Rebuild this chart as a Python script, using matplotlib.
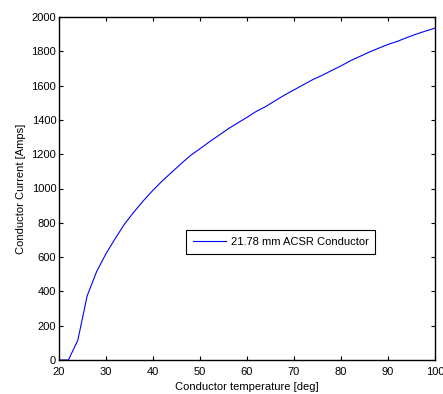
"""
Conductor ampacity vs. temperature.
"""

import matplotlib
matplotlib.use("Agg")
import matplotlib.pyplot as plt

plt.rcParams["font.family"] = ["Liberation Sans", "DejaVu Sans"]
plt.rcParams["font.size"] = 8

temperature = [20, 22, 24, 26, 28, 30, 32, 34, 36, 38, 40, 42, 44, 46, 48, 50,
               52, 54, 56, 58, 60, 62, 64, 66, 68, 70, 72, 74, 76, 78, 80,
               82, 84, 86, 88, 90, 92, 94, 96, 98, 100]
current = [0, 0, 115, 375, 515, 620, 710, 795, 865, 930, 990, 1045, 1095, 1145,
           1193, 1232, 1272, 1310, 1348, 1382, 1415, 1450, 1478, 1512, 1545,
           1575, 1605, 1635, 1660, 1688, 1715, 1745, 1770, 1795, 1818, 1840,
           1858, 1880, 1900, 1918, 1935]
xticks = [20, 30, 40, 50, 60, 70, 80, 90, 100]
yticks = [0, 200, 400, 600, 800, 1000, 1200, 1400, 1600, 1800, 2000]

fig = plt.figure(figsize=(4.43, 3.94), dpi=100)
ax = fig.add_axes([59 / 443, 34 / 394, 376 / 443, 343 / 394])

ax.plot(temperature, current, color="#0000ff", linewidth=0.8,
        label="21.78 mm ACSR Conductor")

ax.set_xlim(20, 100)
ax.set_ylim(0, 2000)
ax.set_xticks(xticks)
ax.set_yticks(yticks)
ax.tick_params(direction="in", top=True, right=True, length=3, width=0.8,
               pad=2, labelsize=8)
ax.tick_params(axis="x", pad=5)
for s in ax.spines.values():
    s.set_linewidth(1.0)

ax.set_xlabel("Conductor temperature [deg]", labelpad=4)
ax.set_ylabel("Conductor Current [Amps]", labelpad=4)

leg = ax.legend(loc="center", bbox_to_anchor=(0.59, 0.344), fancybox=False,
                framealpha=1, edgecolor="black", handlelength=3.0,
                borderpad=0.6, handletextpad=0.4)
leg.get_frame().set_linewidth(0.8)

fig.savefig("out.png", dpi=100)
